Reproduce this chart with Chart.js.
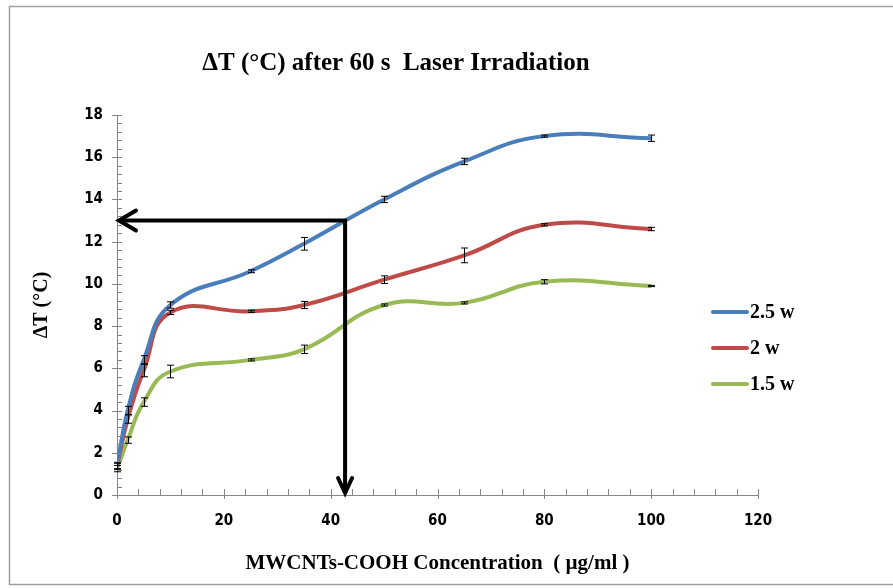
<!DOCTYPE html>
<html>
<head>
<meta charset="utf-8">
<script src="https://cdn.jsdelivr.net/npm/chart.js@4"></script>
<style>
  html, body { margin: 0; padding: 0; background: #fff; }
  canvas { display: block; }
</style>
</head>
<body>
<canvas id="chart" width="893" height="588"></canvas>
<script>
// MWCNTs-COOH concentration (µg/ml)
const concentrations = [0, 2, 5, 10, 25, 35, 50, 65, 80, 100];

// temperature rise after 60 s for each laser power
const seriesLabels = ['2.5 w', '2 w', '1.5 w'];
const deltaT25 = [1.4, 4.0, 6.4, 9.0, 10.6, 11.9, 14.0, 15.8, 17.0, 16.9];
const deltaT20 = [1.35, 3.6, 5.9, 8.65, 8.7, 9.0, 10.2, 11.35, 12.8, 12.6];
const deltaT15 = [1.25, 2.6, 4.4, 5.85, 6.4, 6.9, 9.0, 9.1, 10.1, 9.9];

// standard deviations
const err25 = [0.15, 0.2, 0.2, 0.15, 0.07, 0.3, 0.15, 0.15, 0.05, 0.15];
const err20 = [0.15, 0.2, 0.3, 0.1, 0.05, 0.17, 0.18, 0.35, 0.05, 0.08];
const err15 = [0.15, 0.15, 0.2, 0.3, 0.05, 0.2, 0.05, 0.05, 0.1, 0.03];

const seriesColors = ['#4a7ebb', '#be4b48', '#98b954'];

// reading guide: concentration giving a 13 °C rise
const guideX = 42.7;
const guideY = 13;

const xTicks = [0, 20, 40, 60, 80, 100, 120];
const yTicks = [0, 2, 4, 6, 8, 10, 12, 14, 16, 18];

const serif = '"Liberation Serif", "Times New Roman", serif';
const narrow = '"Liberation Sans Narrow", "DejaVu Sans Condensed", "Liberation Sans", sans-serif';
const axisGray = '#868686';

function toPoints(ys, errs) {
  return concentrations.map((x, i) => ({ x: x, y: ys[i], err: errs[i] }));
}

const datasets = [deltaT25, deltaT20, deltaT15].map((ys, i) => ({
  label: seriesLabels[i],
  data: toPoints(ys, [err25, err20, err15][i]),
  borderColor: seriesColors[i],
  backgroundColor: seriesColors[i],
  borderWidth: 4,
  pointRadius: 0,
  tension: 0.45,
  fill: false
}));

// outer frame, title, axis tick marks, legend
const decorPlugin = {
  id: 'decor',
  beforeDraw(chart) {
    const ctx = chart.ctx;
    ctx.save();
    ctx.strokeStyle = '#a0a0a0';
    ctx.lineWidth = 1.5;
    ctx.strokeRect(9.5, 6.5, 900, 578);
    ctx.restore();
  },
  afterDraw(chart) {
    const ctx = chart.ctx;
    const x = chart.scales.x, y = chart.scales.y;
    const area = chart.chartArea;
    ctx.save();
    ctx.strokeStyle = axisGray;
    ctx.lineWidth = 1;
    ctx.beginPath();
    for (let v = 0; v <= 18.001; v += 0.4) {
      const py = Math.round(y.getPixelForValue(v)) + 0.5;
      const major = Math.abs(v / 2 - Math.round(v / 2)) < 0.01;
      ctx.moveTo(area.left - (major ? 5 : 0), py);
      ctx.lineTo(area.left + 5, py);
    }
    for (let v = 0; v <= 120.001; v += 4) {
      const px = Math.round(x.getPixelForValue(v)) + 0.5;
      const major = v % 20 === 0;
      ctx.moveTo(px, area.bottom - 6);
      ctx.lineTo(px, area.bottom + (major ? 4 : 0));
    }
    ctx.stroke();

    // title
    ctx.fillStyle = '#000';
    ctx.font = 'bold 25px ' + serif;
    ctx.textAlign = 'center';
    ctx.textBaseline = 'middle';
    ctx.fillText('\u0394T (\u00B0C) after 60 s  Laser Irradiation', 396, 64);

    // legend
    ctx.font = 'bold 20px ' + serif;
    ctx.textAlign = 'left';
    const legendY = [312, 348, 384];
    datasets.forEach((ds, i) => {
      ctx.strokeStyle = ds.borderColor;
      ctx.lineWidth = 4;
      ctx.lineCap = 'round';
      ctx.beginPath();
      ctx.moveTo(713, legendY[i]);
      ctx.lineTo(747, legendY[i]);
      ctx.stroke();
      ctx.fillText(ds.label, 750, legendY[i] + 1);
    });
    ctx.restore();
  }
};

// error bars and the reading-guide arrows
const marksPlugin = {
  id: 'marks',
  afterDatasetsDraw(chart) {
    const ctx = chart.ctx;
    const x = chart.scales.x, y = chart.scales.y;
    ctx.save();
    ctx.strokeStyle = '#000';
    ctx.lineWidth = 1;
    chart.data.datasets.forEach(ds => {
      ds.data.forEach(p => {
        const px = Math.round(x.getPixelForValue(p.x)) + 0.5;
        const top = y.getPixelForValue(p.y + p.err);
        const bot = y.getPixelForValue(p.y - p.err);
        ctx.beginPath();
        ctx.moveTo(px, top); ctx.lineTo(px, bot);
        ctx.moveTo(px - 3.5, top); ctx.lineTo(px + 3.5, top);
        ctx.moveTo(px - 3.5, bot); ctx.lineTo(px + 3.5, bot);
        ctx.stroke();
      });
    });

    const gx = x.getPixelForValue(guideX);
    const gy = y.getPixelForValue(guideY);
    const x0 = x.getPixelForValue(0);
    const y0 = y.getPixelForValue(0);
    ctx.lineWidth = 4;
    ctx.lineCap = 'butt';
    ctx.lineJoin = 'miter';
    ctx.beginPath();
    ctx.moveTo(x0 + 2, gy);
    ctx.lineTo(gx, gy);
    ctx.lineTo(gx, y0 - 2);
    ctx.stroke();
    ctx.lineCap = 'round';
    ctx.beginPath();
    ctx.moveTo(x0 + 19, gy - 10); ctx.lineTo(x0 + 2, gy); ctx.lineTo(x0 + 19, gy + 10);
    ctx.moveTo(gx - 7, y0 - 17); ctx.lineTo(gx, y0 - 2); ctx.lineTo(gx + 7, y0 - 17);
    ctx.stroke();
    ctx.restore();
  }
};

new Chart(document.getElementById('chart'), {
  type: 'line',
  data: { datasets: datasets },
  options: {
    responsive: false,
    animation: false,
    layout: { padding: { left: 20, right: 135, top: 115, bottom: 10 } },
    plugins: {
      legend: { display: false },
      tooltip: { enabled: false }
    },
    scales: {
      x: {
        type: 'linear',
        min: 0,
        max: 120,
        afterFit(scale) { scale.height = 83; },
        afterBuildTicks(scale) { scale.ticks = xTicks.map(v => ({ value: v })); },
        grid: { display: false, drawTicks: false },
        border: { color: axisGray, width: 1 },
        ticks: {
          color: '#000',
          padding: 17,
          font: { family: narrow, size: 15, weight: 'bold' }
        },
        title: {
          display: true,
          text: 'MWCNTs-COOH Concentration  ( \u00B5g/ml )',
          color: '#000',
          font: { family: serif, size: 21, weight: 'bold' },
          padding: { top: 0, bottom: 2 }
        }
      },
      y: {
        min: 0,
        max: 18,
        afterFit(scale) { scale.width = 97; },
        afterBuildTicks(scale) { scale.ticks = yTicks.map(v => ({ value: v })); },
        grid: { display: false, drawTicks: false },
        border: { color: axisGray, width: 1 },
        ticks: {
          color: '#000',
          padding: 14,
          font: { family: narrow, size: 15, weight: 'bold' }
        },
        title: {
          display: true,
          text: '\u0394T (\u00B0C)',
          color: '#000',
          font: { family: serif, size: 20, weight: 'bold' },
          padding: { top: 10, bottom: 0 }
        }
      }
    }
  },
  plugins: [decorPlugin, marksPlugin]
});
</script>
</body>
</html>
